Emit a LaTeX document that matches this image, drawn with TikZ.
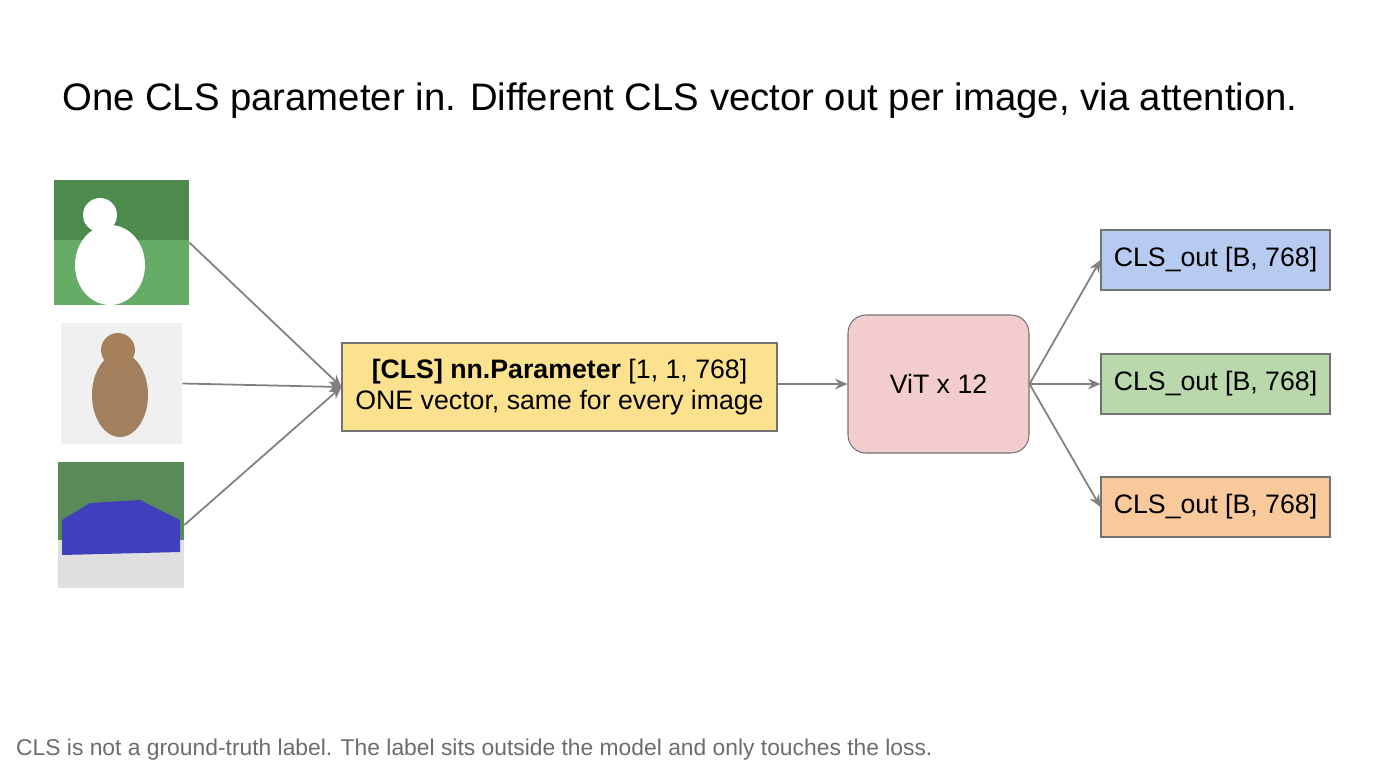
\documentclass[tikz,border=0pt]{standalone}
\usepackage{fontspec}
\setmainfont{Liberation Sans}
\usetikzlibrary{arrows.meta}
\definecolor{edgegray}{HTML}{808080}
\definecolor{paramfill}{HTML}{FCE28E}
\definecolor{vitfill}{HTML}{F3CDCD}
\definecolor{bluefill}{HTML}{B7CBF0}
\definecolor{greenfill}{HTML}{B9D8AB}
\definecolor{orangefill}{HTML}{F8C99B}
\tikzset{
  box/.style={draw=edgegray!90!black,line width=0.6pt,font=\fontsize{15.2}{18}\selectfont},
  arr/.style={-{Stealth[length=7pt,width=6pt]},draw=edgegray,line width=1pt},
  photo/.style={draw=none,inner sep=0pt}
}
\begin{document}
\begin{tikzpicture}[x=0.02cm,y=-0.02cm]
\useasboundingbox (0,0) rectangle (1376,768);

\node[anchor=west,font=\fontsize{21.8}{26}\selectfont] (title) at (56,101)
  {One CLS parameter in. Different CLS vector out per image, via attention.};

% images
\fill[green!35!black!70] (54,180) rectangle (189,305);
\fill[green!45!black!60] (54,240) rectangle (189,305);
\fill[white] (110,265) ellipse (35 and 40);
\fill[white] (100,215) circle (17);
\node[photo,minimum width=135*0.02cm,minimum height=125*0.02cm] (dog) at (121.5,242.5) {};
\fill[gray!12] (61,323) rectangle (182,444);
\fill[brown!55!gray] (120,395) ellipse (28 and 42);
\fill[brown!60!gray] (118,350) circle (17);
\node[photo,minimum width=121*0.02cm,minimum height=121*0.02cm] (cat) at (121.5,383.5) {};
\fill[green!30!black!65] (58,462) rectangle (184,540);
\fill[gray!25] (58,540) rectangle (184,588);
\fill[blue!50!gray] (62,520) -- (90,503) -- (140,500) -- (180,520) -- (180,552) -- (62,555) -- cycle;
\node[photo,minimum width=126*0.02cm,minimum height=126*0.02cm] (car) at (121,525) {};

% boxes
\node[box,fill=paramfill,minimum width=435*0.02cm,minimum height=88*0.02cm,align=center] (param) at (559.5,387)
  {\textbf{[CLS] nn.Parameter} [1, 1, 768]\\ONE vector, same for every image};
\node[box,fill=vitfill,rounded corners=18*0.02cm,minimum width=181*0.02cm,minimum height=138*0.02cm] (vit) at (938.5,384) {ViT x 12};
\node[box,fill=bluefill,minimum width=229*0.02cm,minimum height=60*0.02cm] (outa) at (1215.5,260) {CLS\_out [B, 768]};
\node[box,fill=greenfill,minimum width=229*0.02cm,minimum height=60*0.02cm] (outb) at (1215.5,384) {CLS\_out [B, 768]};
\node[box,fill=orangefill,minimum width=229*0.02cm,minimum height=60*0.02cm] (outc) at (1215.5,507) {CLS\_out [B, 768]};

% arrows
\draw[arr] (dog.east) -- (param.west);
\draw[arr] (cat.east) -- (param.west);
\draw[arr] (car.east) -- (param.west);
\draw[arr] (param.east |- vit.west) -- (vit.west);
\draw[arr] (vit.east) -- (outa.west);
\draw[arr] (vit.east) -- (outb.west);
\draw[arr] (vit.east) -- (outc.west);

\node[anchor=west,text=gray!85!black,font=\fontsize{13}{16}\selectfont] (note) at (10,750)
  {CLS is not a ground-truth label. The label sits outside the model and only touches the loss.};
\end{tikzpicture}
\end{document}
